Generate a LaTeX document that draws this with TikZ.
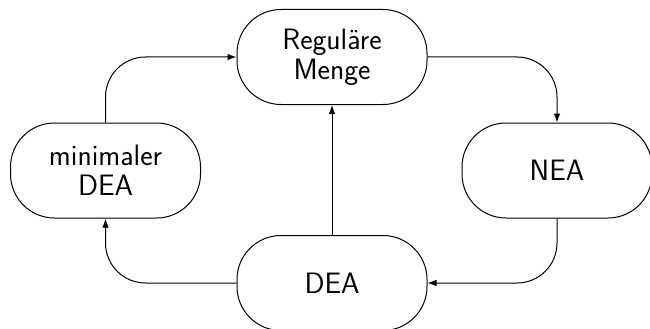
\documentclass[tikz,border=0pt]{standalone}
\usetikzlibrary{arrows.meta}
\begin{document}
\begin{tikzpicture}[x=1pt,y=-1pt,
  box/.style={draw,line width=1pt,rounded corners=44pt,minimum width=190pt,minimum height=95pt,
    align=center,font=\sffamily\fontsize{29.5}{30}\selectfont,inner sep=0pt},
  conn/.style={line width=1pt,rounded corners=40pt,-{Latex[length=9pt,width=6.5pt]}}]
\useasboundingbox (0,0) rectangle (650,329);
\node[box] (reg) at (332,57) {Reguläre\\Menge};
\node[box] (min) at (105.5,170.5) {minimaler\\DEA};
\node[box] (nea) at (557,170.5) {NEA};
\node[box] (dea) at (332,283) {DEA};
\draw[conn] (min.north) |- (reg.west);
\draw[conn] (reg.east) -| (nea.north);
\draw[conn] (nea.south) |- (dea.east);
\draw[conn] (dea.west) -| (min.south);
\draw[conn] (dea.north) -- (reg.south);
\end{tikzpicture}
\end{document}
